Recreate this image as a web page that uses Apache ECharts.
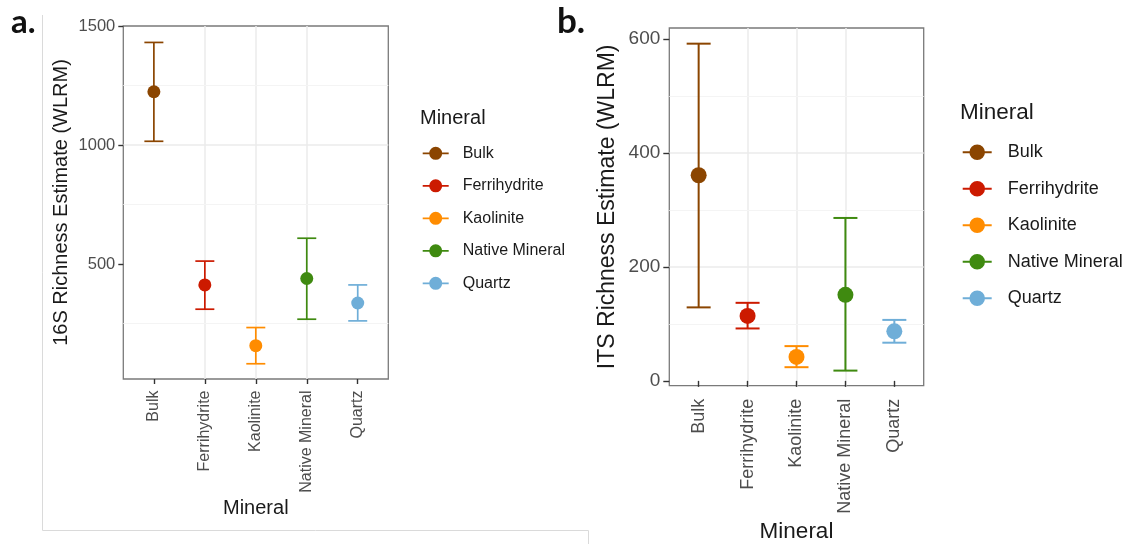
<!DOCTYPE html>
<html>
<head>
<meta charset="utf-8">
<title>Mineral richness estimates</title>
<script src="https://cdn.jsdelivr.net/npm/echarts@6/dist/echarts.min.js"></script>
<style>
  html, body { margin: 0; padding: 0; background: #ffffff; }
  #chart { width: 1129px; height: 544px; }
</style>
</head>
<body>
<div id="chart"></div>
<script>
// Minerals shown on both panels and their colours
const categories = ['Bulk', 'Ferrihydrite', 'Kaolinite', 'Native Mineral', 'Quartz'];
const colors = ['#8b4500', '#cc1a00', '#ff8c00', '#3f8a10', '#6faed8'];
const catPos = [1, 2, 3, 4, 5];

// 16S richness estimate (WLRM): estimate with lower / upper bounds
const est16S = [1224, 413, 158, 440, 337];
const lo16S = [1016, 311, 82, 269, 262];
const hi16S = [1431, 513, 234, 609, 413];

// ITS richness estimate (WLRM)
const estITS = [361, 114, 42, 151, 87];
const loITS = [129, 92, 24, 18, 67];
const hiITS = [592, 137, 61, 286, 107];

// Axis tick labels and minor grid values
const ticks16S = [500, 1000, 1500];
const minor16S = [250, 750, 1250];
const ticksITS = [0, 200, 400, 600];
const minorITS = [100, 300, 500];

const FONT = "'Liberation Sans', Arial, Helvetica, sans-serif";
const TICK_COLOR = '#4d4d4d';
const TEXT_COLOR = '#1a1a1a';

// Error bar with caps and a filled point at the estimate
function makeErrorBar(capHalf, radius, lineW) {
  return function (params, api) {
    const x = api.value(0);
    const low = api.coord([x, api.value(1)]);
    const high = api.coord([x, api.value(2)]);
    const mid = api.coord([x, api.value(3)]);
    const color = api.visual('color');
    const stroke = { stroke: color, lineWidth: lineW };
    return {
      type: 'group',
      children: [
        { type: 'line', shape: { x1: low[0], y1: low[1], x2: high[0], y2: high[1] }, style: stroke },
        { type: 'line', shape: { x1: high[0] - capHalf, y1: high[1], x2: high[0] + capHalf, y2: high[1] }, style: stroke },
        { type: 'line', shape: { x1: low[0] - capHalf, y1: low[1], x2: low[0] + capHalf, y2: low[1] }, style: stroke },
        { type: 'circle', shape: { cx: mid[0], cy: mid[1], r: radius }, style: { fill: color } }
      ]
    };
  };
}

const panels = [
  { est: est16S, lo: lo16S, hi: hi16S, cap: 9.5, r: 6.5, lw: 1.7, minor: minor16S },
  { est: estITS, lo: loITS, hi: hiITS, cap: 12, r: 8, lw: 2, minor: minorITS }
];

const series = [];
panels.forEach(function (p, g) {
  // light minor grid lines
  series.push({
    type: 'line', name: 'minor-grid-' + g, xAxisIndex: g, yAxisIndex: g,
    data: [], silent: true,
    markLine: {
      silent: true, symbol: ['none', 'none'], z: 1,
      label: { show: false },
      lineStyle: { color: '#f4f4f4', width: 1, type: 'solid' },
      emphasis: { disabled: true },
      data: p.minor.map(function (v) { return { yAxis: v }; })
    }
  });
  categories.forEach(function (name, i) {
    series.push({
      type: 'custom', name: name, xAxisIndex: g, yAxisIndex: g,
      itemStyle: { color: colors[i] },
      renderItem: makeErrorBar(p.cap, p.r, p.lw),
      encode: { x: 0, y: [1, 2, 3] },
      data: [[catPos[i], p.lo[i], p.hi[i], p.est[i]]]
    });
  });
});

function xAxisFor(g, labelSize, margin, nameSize, nameGap, tickLen) {
  return {
    gridIndex: g, type: 'value', min: 0.4, max: 5.6, splitNumber: 5,
    axisLine: { show: false },
    axisTick: { show: true, customValues: catPos, length: tickLen, lineStyle: { color: '#333333', width: 1.4 } },
    axisLabel: {
      customValues: catPos, rotate: 90, margin: margin,
      formatter: function (v) { return categories[Math.round(v) - 1]; },
      fontSize: labelSize, color: TICK_COLOR, fontFamily: FONT
    },
    splitLine: { show: true, showMinLine: false, showMaxLine: false, lineStyle: { color: '#ebebeb', width: 1.5 } },
    name: 'Mineral', nameLocation: 'middle', nameGap: nameGap, nameMoveOverlap: false,
    nameTextStyle: { fontSize: nameSize, color: TEXT_COLOR, fontFamily: FONT }
  };
}

function yAxisFor(g, min, max, tickVals, title, labelSize, margin, nameSize, nameGap, tickLen) {
  return {
    gridIndex: g, type: 'value', min: min, max: max, splitNumber: 3,
    axisLine: { show: false },
    axisTick: { show: true, customValues: tickVals, length: tickLen, lineStyle: { color: '#333333', width: 1.4 } },
    axisLabel: {
      customValues: tickVals, margin: margin, fontSize: labelSize, color: TICK_COLOR, fontFamily: FONT,
      formatter: function (v) { return String(Math.round(v)); }
    },
    splitLine: { show: true, showMinLine: false, showMaxLine: false, lineStyle: { color: '#ebebeb', width: 1.5 } },
    name: title, nameLocation: 'middle', nameGap: nameGap, nameMoveOverlap: false,
    nameTextStyle: { fontSize: nameSize, color: TEXT_COLOR, fontFamily: FONT }
  };
}

function legendFor(left, top, iconPath, w, h, gap, fontSize, textPad) {
  return {
    orient: 'vertical', left: left, top: top, padding: 0,
    itemWidth: w, itemHeight: h, itemGap: gap,
    selectedMode: false,
    itemStyle: { borderWidth: 0 },
    textStyle: { fontSize: fontSize, color: TEXT_COLOR, fontFamily: FONT, padding: [0, 0, 0, textPad] },
    data: categories.map(function (name) { return { name: name, icon: iconPath }; })
  };
}

const iconA = 'path://M0,5.6H26V7.4H0Z M13,0A6.5,6.5,0,1,1,12.99,0Z';
const iconB = 'path://M0,6.8H29V8.8H0Z M14.5,0A7.8,7.8,0,1,1,14.49,0Z';

const option = {
  animation: false,
  backgroundColor: '#ffffff',
  title: [
    { text: 'a.', left: 11, top: 6, padding: 0, textStyle: { fontSize: 33, fontWeight: 'bold', color: '#111', fontFamily: 'Lato, sans-serif' } },
    { text: 'b.', left: 557, top: 4, padding: 0, textStyle: { fontSize: 35, fontWeight: 'bold', color: '#111', fontFamily: 'Lato, sans-serif' } },
    { text: 'Mineral', left: 420, top: 108, padding: 0, textStyle: { fontSize: 20, fontWeight: 'normal', color: TEXT_COLOR, fontFamily: FONT } },
    { text: 'Mineral', left: 960, top: 101.5, padding: 0, textStyle: { fontSize: 22.5, fontWeight: 'normal', color: TEXT_COLOR, fontFamily: FONT } }
  ],
  legend: [
    legendFor(422.7, 145.3, iconA, 26, 13, 16.5, 16, 9),
    legendFor(962.7, 143.3, iconB, 29, 15.6, 18.5, 18, 11)
  ],
  grid: [
    { left: 123.3, top: 26, width: 265, height: 353, show: true, borderColor: '#7a7a7a', borderWidth: 1.3, backgroundColor: 'transparent', outerBoundsMode: 'none', containLabel: false },
    { left: 669.3, top: 28, width: 254.4, height: 357.7, show: true, borderColor: '#7a7a7a', borderWidth: 1.3, backgroundColor: 'transparent', outerBoundsMode: 'none', containLabel: false }
  ],
  xAxis: [
    xAxisFor(0, 16, 11.5, 20, 119, 5),
    xAxisFor(1, 18, 13, 22.5, 135, 6)
  ],
  yAxis: [
    yAxisFor(0, 18, 1500, ticks16S, '16S Richness Estimate (WLRM)', 16.5, 8, 20, 51.6, 5),
    yAxisFor(1, -8.5, 619.5, ticksITS, 'ITS Richness Estimate (WLRM)', 19, 9, 23, 50, 6)
  ],
  graphic: [
    // thin frame around the left panel
    { type: 'line', silent: true, shape: { x1: 42.5, y1: 15, x2: 42.5, y2: 530.5 }, style: { stroke: '#dadada', lineWidth: 1 } },
    { type: 'line', silent: true, shape: { x1: 42.5, y1: 530.5, x2: 588.5, y2: 530.5 }, style: { stroke: '#dadada', lineWidth: 1 } },
    { type: 'line', silent: true, shape: { x1: 588.5, y1: 530.5, x2: 588.5, y2: 544 }, style: { stroke: '#dadada', lineWidth: 1 } }
  ],
  series: series
};

const chart = echarts.init(document.getElementById('chart'), null, { renderer: 'canvas' });
chart.setOption(option);
</script>
</body>
</html>
